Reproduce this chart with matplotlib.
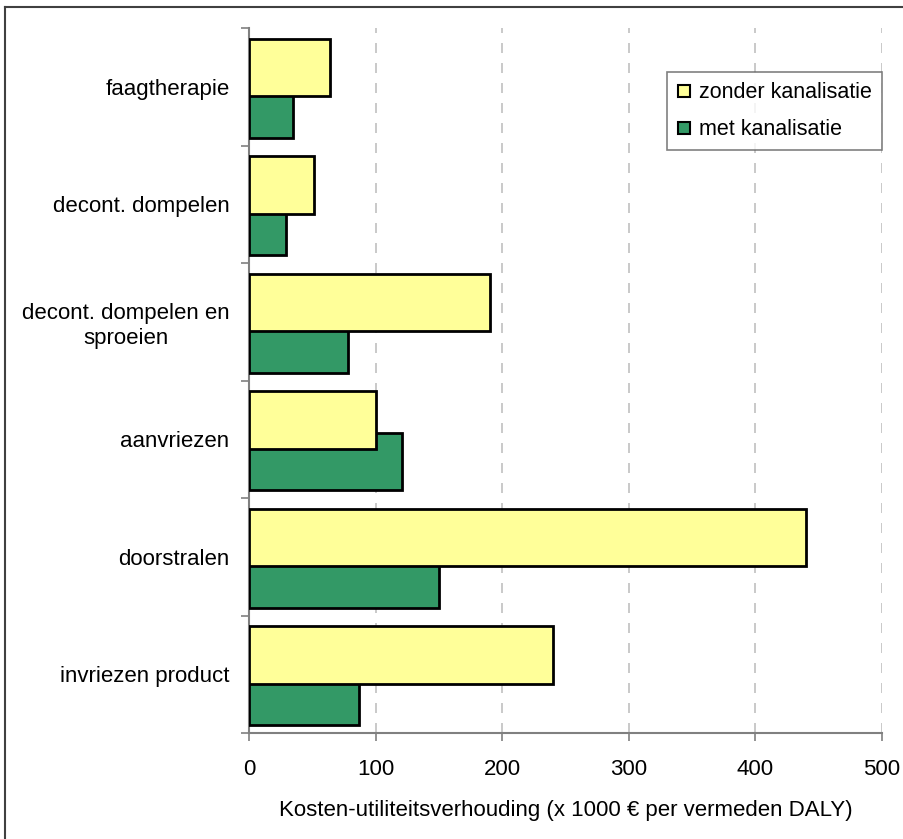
import numpy as np
import matplotlib.pyplot as plt
from matplotlib.lines import Line2D

plt.rcParams['font.family'] = ['Liberation Sans', 'DejaVu Sans']

categories = ["faagtherapie", "decont. dompelen", "decont. dompelen en\nsproeien",
              "aanvriezen", "doorstralen", "invriezen product"]
zonder = [64, 51, 190, 100, 440, 240]
met = [35, 29, 78, 121, 150, 87]

fig = plt.figure(figsize=(9.04, 8.39), dpi=100)
ax = fig.add_axes([0.2754, 0.1263, 0.7003, 0.8403])

y = np.arange(len(categories))
h = 0.49
ax.barh(y + 0.19, met, height=h, color='#339966', edgecolor='black', linewidth=2,
        label='met kanalisatie', zorder=3)
ax.barh(y - 0.165, zonder, height=h, color='#ffff99', edgecolor='black', linewidth=2,
        label='zonder kanalisatie', zorder=4)

ax.set_xlim(0, 500)
ax.set_ylim(len(categories) - 0.5, -0.5)
ax.set_xticks(range(0, 501, 100))
ax.set_yticks(y)
ax.set_yticklabels(categories, multialignment='center', linespacing=1.25)
ax.set_yticks(np.arange(-0.5, len(categories), 1), minor=True)
ax.tick_params(axis='y', which='major', length=0, pad=14, labelsize=16)
ax.tick_params(axis='y', which='minor', length=6, width=1.2, color='#808080', direction='out')
ax.tick_params(axis='x', length=6, width=1.2, color='#808080', labelsize=16, pad=13)

ax.grid(axis='x', linestyle=(0, (6, 6)), color='#c0c0c0', linewidth=1.2, zorder=0)
for s in ['top', 'right']:
    ax.spines[s].set_visible(False)
for s in ['left', 'bottom']:
    ax.spines[s].set_color('#808080')
    ax.spines[s].set_linewidth(1.5)

ax.set_xlabel("Kosten-utiliteitsverhouding (x 1000 € per vermeden DALY)", fontsize=16, labelpad=14)

handles = [
    Line2D([], [], marker='s', linestyle='none', markersize=9, markerfacecolor='#ffff99',
           markeredgecolor='black', markeredgewidth=1.5, label='zonder kanalisatie'),
    Line2D([], [], marker='s', linestyle='none', markersize=9, markerfacecolor='#339966',
           markeredgecolor='black', markeredgewidth=1.5, label='met kanalisatie'),
]
leg = ax.legend(handles=handles, loc='upper right', bbox_to_anchor=(1.0, 0.937),
                fontsize=15.5, frameon=True, fancybox=False, handlelength=0.7,
                handletextpad=0.35, borderpad=0.45, labelspacing=0.75, borderaxespad=0)
leg.get_frame().set_edgecolor('#606060')
leg.get_frame().set_linewidth(1.2)

# outer frame of the chart area
fig.add_artist(Line2D([0.0055, 0.0055], [0, 0.9917], color='#404040', linewidth=1.5))
fig.add_artist(Line2D([0.0055, 1.0], [0.9917, 0.9917], color='#404040', linewidth=1.5))

fig.savefig('out.png', dpi=100)
